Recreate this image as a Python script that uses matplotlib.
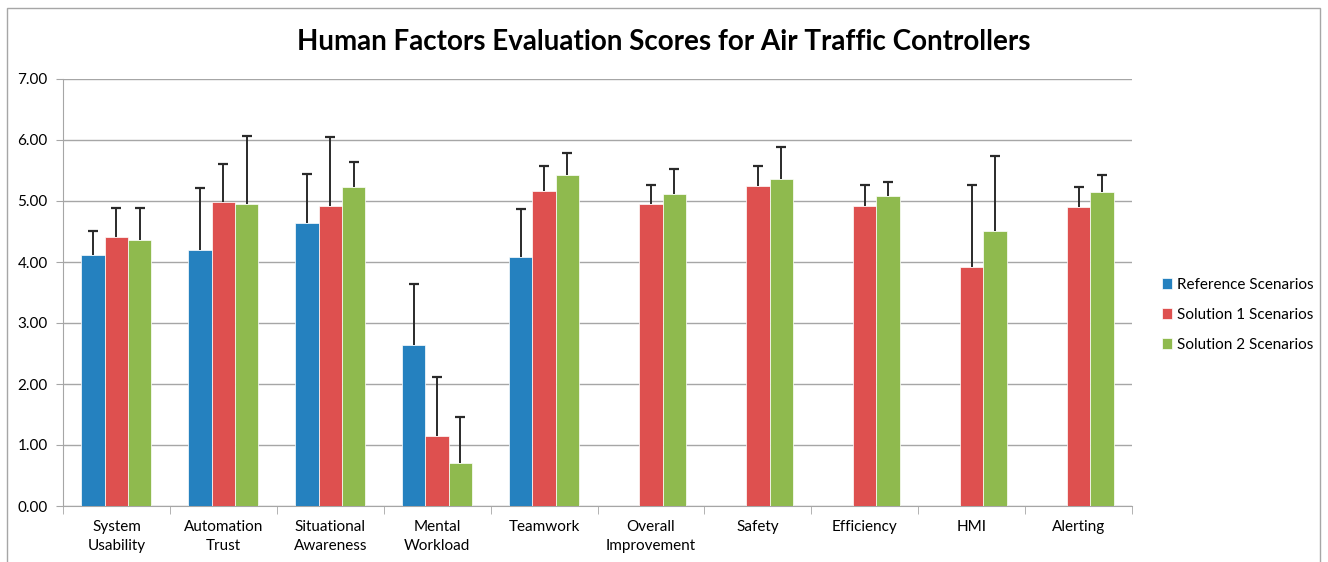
import numpy as np
import matplotlib.pyplot as plt
from matplotlib.patches import Rectangle
from matplotlib.ticker import FormatStrFormatter

# Données
categories = ["System\nUsability", "Automation\nTrust", "Situational\nAwareness", "Mental\nWorkload",
              "Teamwork", "Overall\nImprovement", "Safety", "Efficiency", "HMI", "Alerting"]
series = ["Reference Scenarios", "Solution 1 Scenarios", "Solution 2 Scenarios"]

reference = [4.11, 4.19, 4.64, 2.64, 4.08, np.nan, np.nan, np.nan, np.nan, np.nan]
solution1 = [4.41, 4.99, 4.92, 1.14, 5.16, 4.95, 5.24, 4.91, 3.92, 4.90]
solution2 = [4.36, 4.95, 5.23, 0.70, 5.43, 5.11, 5.36, 5.08, 4.50, 5.14]

# écart-type (haut de la barre d'erreur moins la valeur)
reference_err = [0.40, 1.03, 0.80, 1.00, 0.79, np.nan, np.nan, np.nan, np.nan, np.nan]
solution1_err = [0.48, 0.62, 1.13, 0.97, 0.41, 0.32, 0.34, 0.36, 1.35, 0.33]
solution2_err = [0.53, 1.12, 0.41, 0.76, 0.35, 0.41, 0.53, 0.23, 1.24, 0.29]

couleurs = ["#2581BF", "#DE504F", "#8FBA4E"]

plt.rcParams['font.family'] = ['Lato', 'DejaVu Sans']

fig = plt.figure(figsize=(13.28, 5.62), dpi=100)
ax = fig.add_axes([63 / 1328, 56 / 562, 1069 / 1328, 427 / 562])

# Cadre extérieur du graphique
fig.patches.append(Rectangle((7 / 1328, -0.1), 1313 / 1328, 1.1 - 8 / 562,
                             transform=fig.transFigure, fill=False,
                             edgecolor="#a6a6a6", linewidth=1))

x = np.arange(len(categories))
largeur = 0.218
valeurs = [reference, solution1, solution2]
erreurs = [reference_err, solution1_err, solution2_err]

for i, (vals, errs) in enumerate(zip(valeurs, erreurs)):
    pos = x + (i - 1) * largeur
    vals = np.array(vals)
    hauts = vals + np.array(errs)
    ax.bar(pos, vals, width=largeur, color=couleurs[i], label=series[i],
           edgecolor="white", linewidth=0.5, zorder=3)
    # barres d'erreur vers le haut seulement
    ax.vlines(pos, vals, hauts, color="#2a2a2a", linewidth=1.4, zorder=4)
    ax.scatter(pos, hauts, marker="_", s=45, color="#2a2a2a", linewidths=1.6, zorder=4)

ax.set_xlim(-0.5, len(categories) - 0.5)
ax.set_ylim(0, 7)
ax.set_yticks(np.arange(0, 7.01, 1))
ax.yaxis.set_major_formatter(FormatStrFormatter('%.2f'))
ax.grid(axis="y", color="#a6a6a6", linewidth=1, zorder=0)

ax.set_xticks(x)
ax.set_xticklabels(categories, fontsize=11, linespacing=1.45)
ax.set_xticks(np.arange(-0.5, len(categories)), minor=True)
ax.tick_params(axis="x", which="major", length=0, pad=10)
ax.tick_params(axis="x", which="minor", length=6, color="#a6a6a6")
ax.tick_params(axis="y", length=5, color="#a6a6a6", labelsize=11, pad=6)

for s in ["top", "right"]:
    ax.spines[s].set_visible(False)
for s in ["left", "bottom"]:
    ax.spines[s].set_color("#a6a6a6")

fig.text(0.5, 0.925, "Human Factors Evaluation Scores for Air Traffic Controllers",
         ha="center", va="center", fontsize=20, fontweight="bold")

ax.legend(loc="center left", bbox_to_anchor=(1.015, 0.447), frameon=False,
          fontsize=11, handlelength=0.7, handleheight=0.7, labelspacing=1.05,
          handletextpad=0.3)

plt.savefig("out.png", dpi=100)
plt.close()
